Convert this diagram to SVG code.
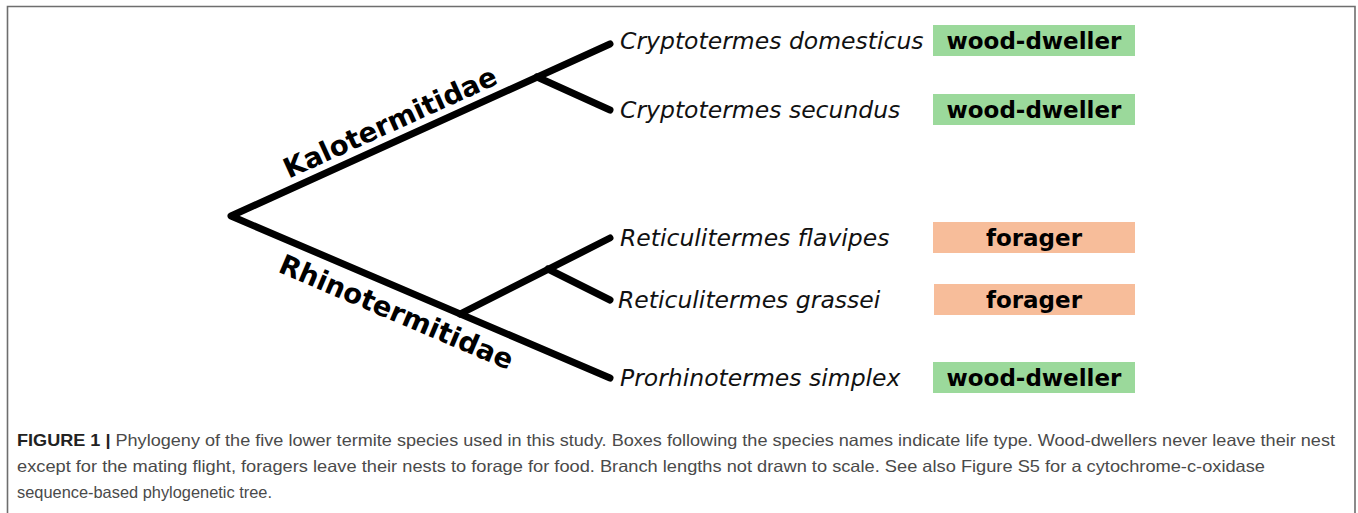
<svg xmlns="http://www.w3.org/2000/svg" width="1358" height="513" viewBox="0 0 1358 513">
<style>
.frame{fill:none;stroke:#6e6e6e;stroke-width:1.6}
.br{fill:none;stroke:#000;stroke-width:7;stroke-linecap:round;stroke-linejoin:round}
.sp{font-family:"DejaVu Sans",sans-serif;font-style:italic;font-size:23.5px;fill:#111}
.fam{font-family:"DejaVu Sans",sans-serif;font-weight:bold;font-size:27.5px;fill:#000}
.lt{font-family:"DejaVu Sans",sans-serif;font-weight:bold;font-size:23px;fill:#000;text-anchor:middle}
.wd{fill:#9bd99b}
.fo{fill:#f7bd9a}
.cap{font-family:"Liberation Sans",Arial,sans-serif;font-size:16.5px;fill:#4a4a4a}
.capb{font-weight:bold;fill:#222}
</style>
<rect width="1358" height="513" fill="#fff"/>
<path class="frame" d="M7.5,513 V6.5 H1355 V513"/>
<g id="connectors">
<path class="br" d="M610,44 L231,216 L610,378"/>
<path class="br" d="M537,77 L610,110"/>
<path class="br" d="M460,314 L610,238"/>
<path class="br" d="M548,269 L610,300"/>
</g>
<g id="clade-kalotermitidae"><text class="fam" transform="translate(231,216) rotate(-24.4)" x="68" y="-10">Kalotermitidae</text></g>
<g id="clade-rhinotermitidae"><text class="fam" transform="translate(231,216) rotate(23.1)" x="64" y="33">Rhinotermitidae</text></g>
<g id="sp1"><text class="sp" x="620" y="49">Cryptotermes domesticus</text><rect class="wd" x="933" y="25" width="202" height="31"/><text class="lt" x="1034" y="49">wood-dweller</text></g>
<g id="sp2"><text class="sp" x="620" y="118">Cryptotermes secundus</text><rect class="wd" x="933" y="94" width="202" height="31"/><text class="lt" x="1034" y="118">wood-dweller</text></g>
<g id="sp3"><text class="sp" x="620" y="246">Reticulitermes flavipes</text><rect class="fo" x="933" y="222" width="202" height="31"/><text class="lt" x="1034" y="246">forager</text></g>
<g id="sp4"><text class="sp" x="618" y="308">Reticulitermes grassei</text><rect class="fo" x="934" y="284" width="201" height="31"/><text class="lt" x="1034" y="308">forager</text></g>
<g id="sp5"><text class="sp" x="620" y="386">Prorhinotermes simplex</text><rect class="wd" x="933" y="362" width="202" height="31"/><text class="lt" x="1034" y="386">wood-dweller</text></g>
<g id="caption">
<text class="cap" x="17" y="446" textLength="1318" lengthAdjust="spacingAndGlyphs"><tspan class="capb">FIGURE 1 |</tspan> Phylogeny of the five lower termite species used in this study. Boxes following the species names indicate life type. Wood-dwellers never leave their nest</text>
<text class="cap" x="17" y="472" textLength="1248" lengthAdjust="spacingAndGlyphs">except for the mating flight, foragers leave their nests to forage for food. Branch lengths not drawn to scale. See also Figure S5 for a cytochrome-c-oxidase</text>
<text class="cap" x="17" y="498" textLength="255" lengthAdjust="spacingAndGlyphs">sequence-based phylogenetic tree.</text>
</g>
</svg>
